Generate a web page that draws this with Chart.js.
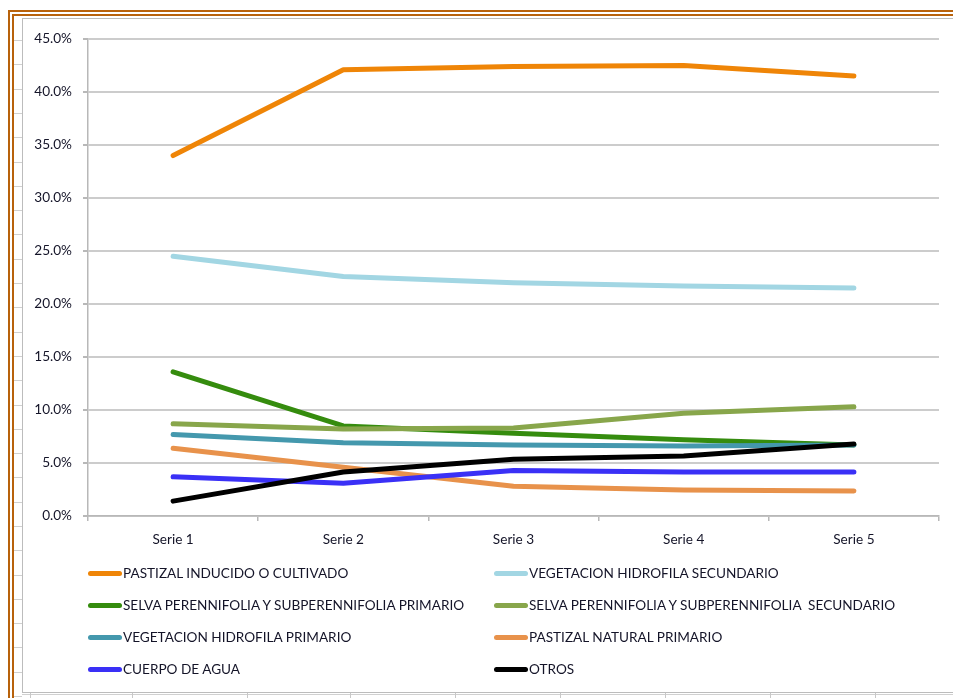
<!DOCTYPE html>
<html>
<head>
<meta charset="utf-8">
<script src="https://cdn.jsdelivr.net/npm/chart.js@4.4.1/dist/chart.umd.min.js"></script>
<style>
  html, body { margin:0; padding:0; background:#fff; width:953px; height:698px; overflow:hidden; }
  #frame { position:absolute; left:8px; top:10px; width:1000px; height:720px; border:6px double #b8620c; box-sizing:border-box; }
  #inner { position:absolute; left:22px; top:18px; width:1000px; height:675px; border:1px solid #bcbcbc; box-sizing:border-box; background:#fff; }
  #wrap { position:absolute; left:0; top:0; width:953px; height:560px; }
  #legend { position:absolute; left:0; top:0; width:953px; height:698px; pointer-events:none; font-family: Lato, "Open Sans", sans-serif; font-size:13.6px; color:#141428; }
  .item { position:absolute; height:16px; line-height:16px; white-space:pre; }
  .sw { position:absolute; width:34px; height:5px; border-radius:3px; }
  .row { position:absolute; left:14px; width:8px; height:1px; background:#d0d0d0; }
  .col { position:absolute; top:693px; width:1px; height:6px; background:#c8c8c8; }
  #bot { position:absolute; left:22px; top:694px; width:940px; height:1px; background:#d0d0d0; }
</style>
</head>
<body>
<div id="frame"></div>
<div id="deco"></div>
<div id="inner"></div>
<div id="wrap"><canvas id="c" width="953" height="560"></canvas></div>
<div id="legend"></div>
<script>
const categories = ["Serie 1", "Serie 2", "Serie 3", "Serie 4", "Serie 5"];
const seriesNames = [
  "PASTIZAL INDUCIDO O CULTIVADO",
  "VEGETACION HIDROFILA SECUNDARIO",
  "SELVA PERENNIFOLIA Y SUBPERENNIFOLIA PRIMARIO",
  "SELVA PERENNIFOLIA Y SUBPERENNIFOLIA  SECUNDARIO",
  "VEGETACION HIDROFILA PRIMARIO",
  "PASTIZAL NATURAL PRIMARIO",
  "CUERPO DE AGUA",
  "OTROS"
];
const pastizalInducido   = [34.0, 42.1, 42.4, 42.5, 41.5];
const vegHidrofilaSec    = [24.5, 22.6, 22.0, 21.7, 21.5];
const selvaPrimario      = [13.6, 8.5, 7.8, 7.2, 6.7];
const selvaSecundario    = [8.7, 8.2, 8.3, 9.7, 10.3];
const vegHidrofilaPrim   = [7.7, 6.9, 6.7, 6.6, 6.7];
const pastizalNatural    = [6.4, 4.6, 2.8, 2.45, 2.35];
const cuerpoDeAgua       = [3.7, 3.1, 4.3, 4.15, 4.15];
const otros              = [1.4, 4.15, 5.35, 5.65, 6.8];
const yTicks = [0, 5, 10, 15, 20, 25, 30, 35, 40, 45];

const seriesValues = [pastizalInducido, vegHidrofilaSec, selvaPrimario, selvaSecundario,
                      vegHidrofilaPrim, pastizalNatural, cuerpoDeAgua, otros];
const colors = ["#ef8507", "#a2d6e3", "#358c0e", "#88a64b", "#4498ad", "#e8924b", "#3a30f6", "#000000"];

// decorative spreadsheet lines
const deco = document.getElementById('deco');
for (let y = 40; y < 698; y += 24.3) { const d = document.createElement('div'); d.className='row'; d.style.top = Math.round(y)+'px'; deco.appendChild(d); }
const bot = document.createElement('div'); bot.id='bot'; deco.appendChild(bot);
[30, 132, 247, 350, 455, 560, 665, 770, 875].forEach(x => { const d=document.createElement('div'); d.className='col'; d.style.left=x+'px'; deco.appendChild(d); });

const fontFam = 'Lato, "Open Sans", sans-serif';
const datasets = seriesNames.map((n, i) => ({
  label: n,
  data: seriesValues[i],
  borderColor: colors[i],
  backgroundColor: colors[i],
  borderWidth: 5,
  pointRadius: 0,
  tension: 0,
  borderCapStyle: 'round',
  borderJoinStyle: 'round',
  fill: false,
  order: seriesNames.length - i
}));

new Chart(document.getElementById('c'), {
  type: 'line',
  data: { labels: categories, datasets },
  options: {
    responsive: false,
    animation: false,
    layout: { padding: { left: 0, right: 14, top: 39, bottom: 0 } },
    plugins: { legend: { display: false }, tooltip: { enabled: false } },
    scales: {
      x: {
        offset: true,
        grid: { display: true, offset: true, drawOnChartArea: false, drawTicks: true, tickLength: 5, color: '#b8b8b8', lineWidth: 1.5 },
        border: { display: true, color: '#b8b8b8', width: 1.5 },
        ticks: { color: '#141428', font: { family: fontFam, size: 13.6 }, padding: 10 },
        afterFit: s => { s.height = 44; }
      },
      y: {
        min: 0, max: 45,
        afterBuildTicks: s => { s.ticks = yTicks.map(v => ({ value: v })); },
        grid: { color: '#cccccc', lineWidth: 2, drawTicks: true, tickLength: 5, tickColor: '#b8b8b8' },
        border: { display: true, color: '#b8b8b8', width: 1.5 },
        ticks: { color: '#141428', font: { family: fontFam, size: 13.6 }, padding: 11, callback: v => v.toFixed(1) + '%' },
        afterFit: s => { s.width = 88; }
      }
    }
  }
});

// legend built from the series arrays
const leg = document.getElementById('legend');
const rowsY = [573, 605, 637, 669];
seriesNames.forEach((n, i) => {
  const col = i % 2, row = Math.floor(i / 2);
  const swX = col === 0 ? 88 : 494;
  const txX = col === 0 ? 123 : 529;
  const sw = document.createElement('div');
  sw.className = 'sw'; sw.style.left = swX + 'px'; sw.style.top = (rowsY[row] - 2) + 'px'; sw.style.background = colors[i];
  const t = document.createElement('div');
  t.className = 'item'; t.style.left = txX + 'px'; t.style.top = (rowsY[row] - 8) + 'px'; t.textContent = n;
  leg.appendChild(sw); leg.appendChild(t);
});
</script>
</body>
</html>
